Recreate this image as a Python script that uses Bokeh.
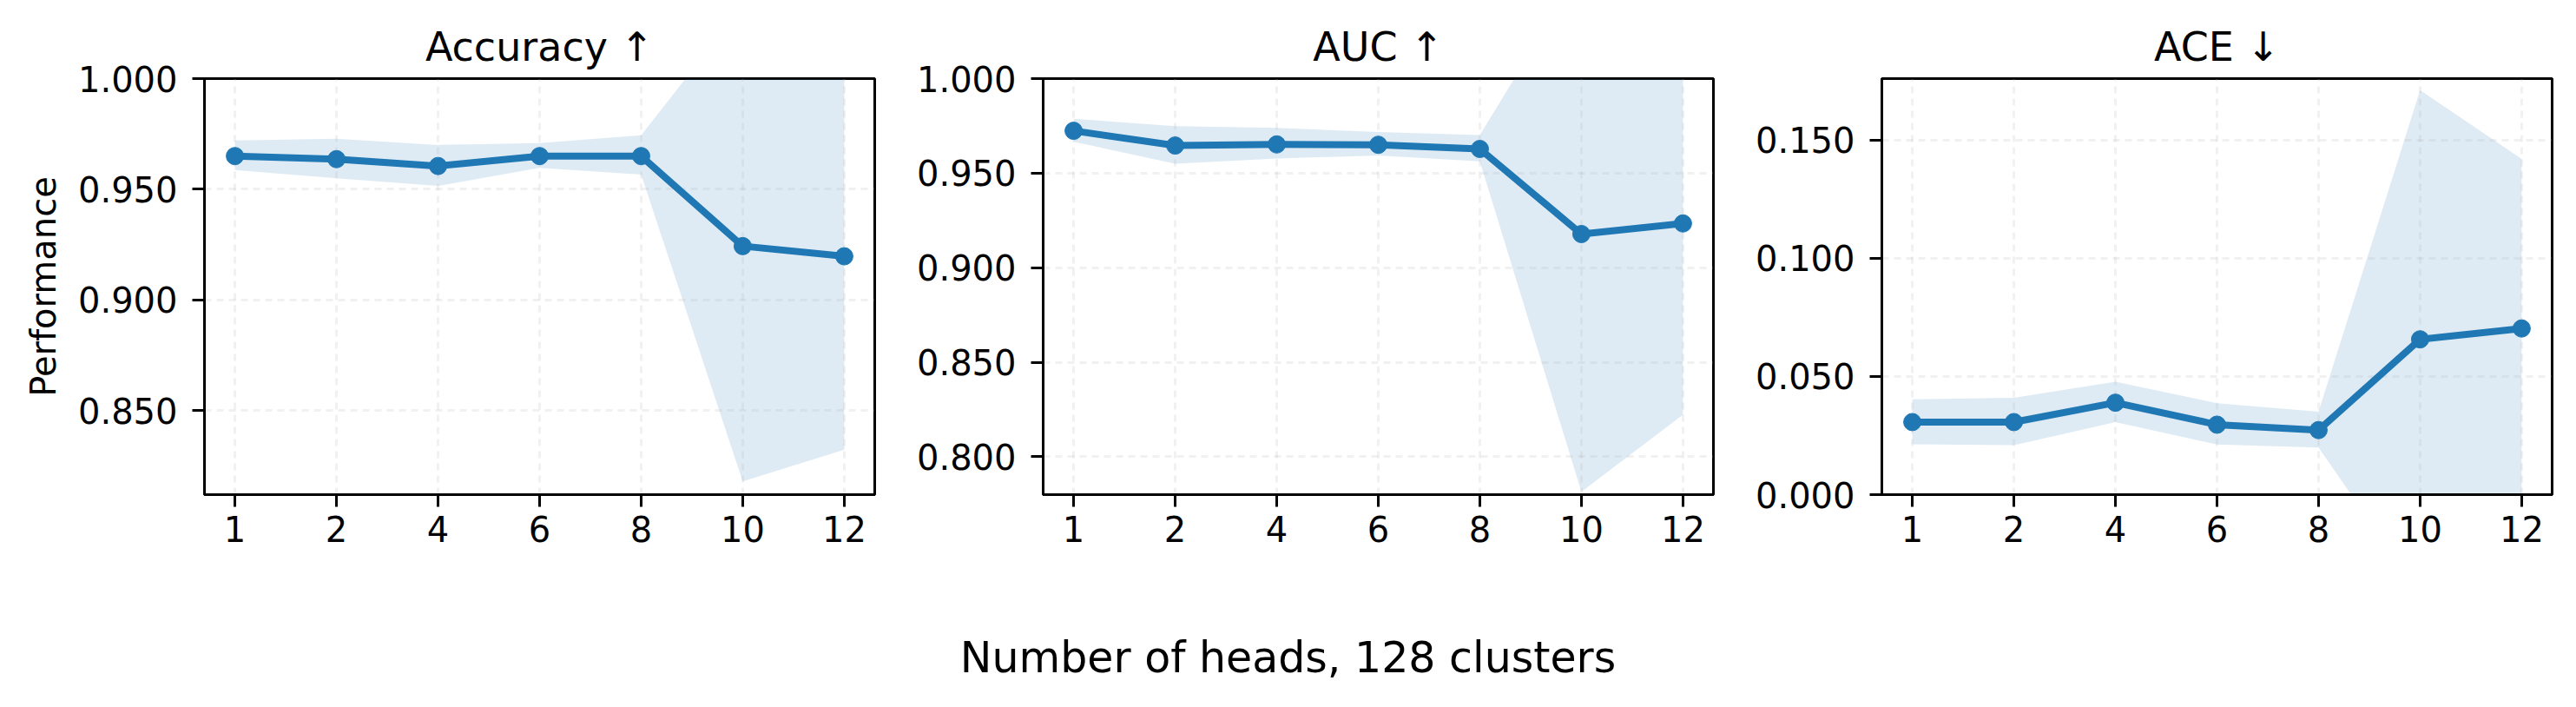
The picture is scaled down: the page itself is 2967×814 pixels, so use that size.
from bokeh.plotting import figure
from bokeh.layouts import row, column
from bokeh.models import Range1d, FixedTicker, NumeralTickFormatter, Label
from bokeh.embed import file_html
from bokeh.resources import INLINE

# ---------------- data ----------------
heads = ["1", "2", "4", "6", "8", "10", "12"]

acc_mean = [0.9650, 0.9636, 0.9605, 0.9650, 0.9650, 0.9243, 0.9197]
acc_lower = [0.9587, 0.9550, 0.9515, 0.9597, 0.9566, 0.8180, 0.8323]
acc_upper = [0.9720, 0.9728, 0.9700, 0.9709, 0.9744, 1.0330, 1.0070]

auc_mean = [0.9724, 0.9646, 0.9652, 0.9650, 0.9628, 0.9178, 0.9234]
auc_lower = [0.9666, 0.9550, 0.9577, 0.9594, 0.9562, 0.7815, 0.8223]
auc_upper = [0.9788, 0.9748, 0.9739, 0.9717, 0.9702, 1.0580, 1.0245]

ace_mean = [0.0307, 0.0307, 0.0389, 0.0296, 0.0273, 0.0657, 0.0703]
ace_lower = [0.0213, 0.0209, 0.0307, 0.0212, 0.0199, -0.0420, -0.0014]
ace_upper = [0.0403, 0.0410, 0.0478, 0.0387, 0.0351, 0.1711, 0.1420]

titles = ["Accuracy \u2191", "AUC \u2191", "ACE \u2193"]
y_ranges = [(0.812, 1.0), (0.780, 1.0), (0.0, 0.176)]
y_ticks = [[0.85, 0.90, 0.95, 1.00],
           [0.80, 0.85, 0.90, 0.95, 1.00],
           [0.00, 0.05, 0.10, 0.15]]
y_label = "Performance"
x_label = "Number of heads, 128 clusters"

# ---------------- style ----------------
BLUE = "#1f77b4"
FONT = "DejaVu Sans"
FRAME_W, FRAME_H = 772, 479
TOP, BOTTOM = 90, 75
lefts = [235, 184, 184]
rights = [10, 10, 8]

series = [(acc_mean, acc_lower, acc_upper),
          (auc_mean, auc_lower, auc_upper),
          (ace_mean, ace_lower, ace_upper)]

xs = list(range(len(heads)))
figs = []
for i, (m, lo, hi) in enumerate(series):
    p = figure(frame_width=FRAME_W, frame_height=FRAME_H,
               output_backend="svg", toolbar_location=None,
               x_range=Range1d(-0.3, len(heads) - 1 + 0.3),
               y_range=Range1d(*y_ranges[i]),
               min_border_left=lefts[i], min_border_right=rights[i],
               min_border_top=TOP, min_border_bottom=BOTTOM,
               title=titles[i])
    p.background_fill_color = "white"
    p.border_fill_color = "white"
    p.outline_line_color = "black"
    p.outline_line_width = 3
    p.outline_line_alpha = 1

    p.title.text_font = FONT
    p.title.text_font_size = "46px"
    p.title.text_font_style = "normal"
    p.title.align = "center"
    p.title.standoff = 20
    p.title.text_color = "black"

    band = p.varea(x=xs, y1=lo, y2=hi, fill_color=BLUE, fill_alpha=0.15)
    band.level = "image"
    p.line(x=xs, y=m, line_color=BLUE, line_width=8, line_join="round")
    p.scatter(x=xs, y=m, size=20, fill_color=BLUE, line_color=BLUE)

    for ax in (p.xaxis[0], p.yaxis[0]):
        ax.axis_line_width = 3
        ax.axis_line_color = "black"
        ax.major_tick_line_width = 3
        ax.major_tick_line_color = "black"
        ax.major_tick_in = 0
        ax.major_tick_out = 14
        ax.minor_tick_line_color = None
        ax.major_label_text_font = FONT
        ax.major_label_text_font_size = "40px"
        ax.major_label_text_color = "black"

    p.xaxis.ticker = FixedTicker(ticks=xs)
    p.xaxis.major_label_overrides = {x: h for x, h in zip(xs, heads)}
    p.xaxis.major_label_standoff = 10
    p.yaxis.ticker = FixedTicker(ticks=y_ticks[i])
    p.yaxis.formatter = NumeralTickFormatter(format="0.000")
    p.yaxis.major_label_standoff = 17

    if i == 0:
        p.yaxis.axis_label = y_label
        p.yaxis.axis_label_text_font = FONT
        p.yaxis.axis_label_text_font_size = "40px"
        p.yaxis.axis_label_text_font_style = "normal"
        p.yaxis.axis_label_text_color = "black"
        p.yaxis.axis_label_standoff = 14

    for g in (p.xgrid[0], p.ygrid[0]):
        g.grid_line_color = "#b0b0b0"
        g.grid_line_alpha = 0.18
        g.grid_line_width = 3
        g.grid_line_dash = "8 6"
    p.xgrid.ticker = FixedTicker(ticks=xs)
    p.ygrid.ticker = FixedTicker(ticks=y_ticks[i])
    figs.append(p)

total_w = sum(lefts) + sum(rights) + 3 * FRAME_W
lab_h = 160
q = figure(width=total_w, height=lab_h, output_backend="svg",
           toolbar_location=None, x_axis_type=None, y_axis_type=None,
           x_range=Range1d(0, 1), y_range=Range1d(0, 1),
           min_border=0)
q.outline_line_color = None
q.grid.visible = False
q.add_layout(Label(x=1483, y=lab_h - 113, x_units="screen", y_units="screen",
                   text=x_label, text_font=FONT, text_font_size="49px",
                   text_align="center", text_baseline="middle",
                   text_color="black"))

layout = column(row(*figs, spacing=0), q, spacing=0)
open("out.html", "w").write(file_html(layout, INLINE))
